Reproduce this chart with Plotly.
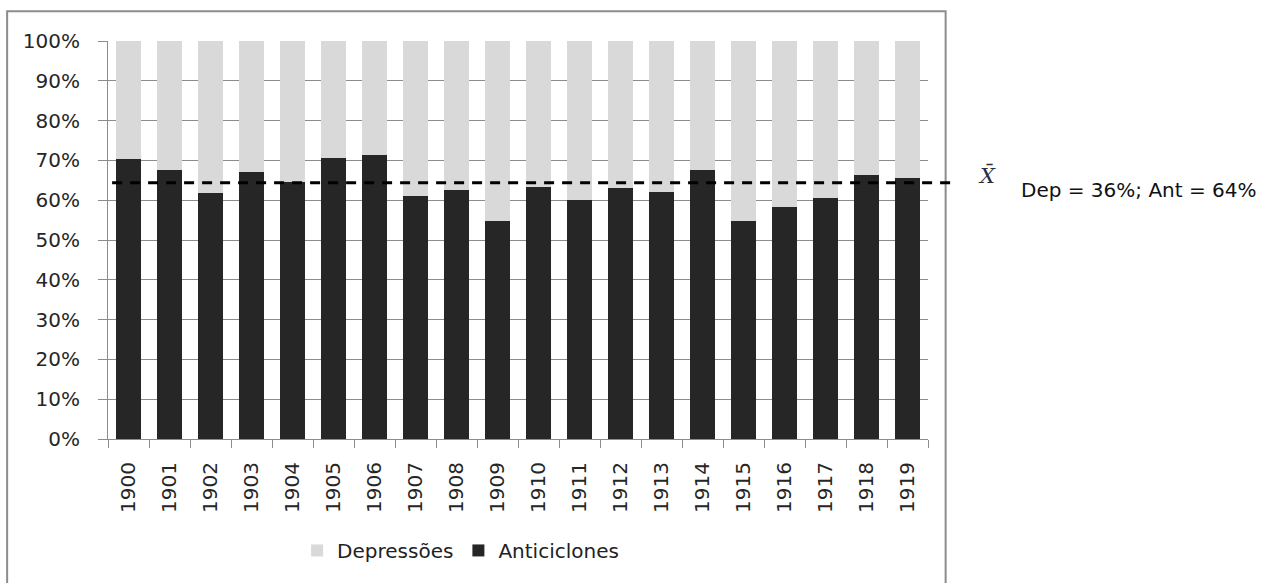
import plotly.graph_objects as go

# Annual share of anticyclones vs. depressions (percent of days)
years = [str(y) for y in range(1900, 1920)]
anticiclones = [70.4, 67.6, 61.8, 67.2, 64.5, 70.5, 71.4, 61.1, 62.5, 54.8,
                63.4, 60.1, 63.1, 62.1, 67.6, 54.8, 58.3, 60.5, 66.3, 65.6]
depressoes = [29.6, 32.4, 38.2, 32.8, 35.5, 29.5, 28.6, 38.9, 37.5, 45.2,
              36.6, 39.9, 36.9, 37.9, 32.4, 45.2, 41.7, 39.5, 33.7, 34.4]

# Period mean shown as a dashed reference line
mean_ant = 64.4
mean_dep = 100 - mean_ant
y_ticks = list(range(0, 101, 10))
y_tick_labels = [f"{v}%" for v in y_ticks]

DARK = "#262626"
LIGHT = "#d9d9d9"
GRID = "#8c8c8c"
FONT = "DejaVu Sans"

fig = go.Figure()
fig.add_trace(go.Bar(x=years, y=anticiclones, name="Anticiclones",
                     marker=dict(color=DARK, line=dict(width=0)), legendrank=2))
fig.add_trace(go.Bar(x=years, y=depressoes, name="Depressões",
                     marker=dict(color=LIGHT, line=dict(width=0)), legendrank=1))

# Dashed mean line, running past the plot frame toward the label
fig.add_shape(type="line", xref="paper", yref="y",
              x0=0.005, x1=1.035, y0=mean_ant, y1=mean_ant,
              line=dict(color="black", width=3, dash="10px,8px"))

# Outer chart frame
fig.add_shape(type="rect", xref="paper", yref="paper",
              x0=-0.123, x1=1.0215, y0=-0.40, y1=1.075,
              line=dict(color=GRID, width=2), fillcolor="rgba(0,0,0,0)", layer="below")

fig.add_annotation(xref="paper", yref="y", x=1.058, y=mean_ant, yshift=7,
                   xanchor="left",
                   text="<i>X̄</i>", showarrow=False,
                   font=dict(family="DejaVu Serif", size=21, color="#2b2b40"))
fig.add_annotation(xref="paper", yref="y", x=1.111, y=mean_ant, yshift=-7,
                   xanchor="left",
                   text=f"Dep = {round(mean_dep)}%; Ant = {round(mean_ant)}%",
                   showarrow=False, font=dict(family=FONT, size=20, color="#111"))

fig.update_layout(
    width=1272, height=583,
    margin=dict(l=108, r=344, t=41, b=144, autoexpand=False),
    paper_bgcolor="white", plot_bgcolor="white",
    barmode="stack", bargap=0.4,
    font=dict(family=FONT, size=20, color="#262626"),
    showlegend=True,
    legend=dict(orientation="h", x=0.43, xanchor="center", y=-0.28, yanchor="middle",
                font=dict(family=FONT, size=20, color="#222"), traceorder="normal"),
    xaxis=dict(type="category", tickangle=-90, tickson="boundaries",
               ticks="outside", ticklen=8, tickcolor=GRID,
               showline=True, linecolor=GRID, linewidth=1,
               showgrid=False, ticklabelstandoff=14,
               tickfont=dict(family=FONT, size=20)),
    yaxis=dict(range=[0, 100], tickmode="array", tickvals=y_ticks, ticktext=y_tick_labels,
               ticks="outside", ticklen=9, tickcolor=GRID,
               showline=True, linecolor=GRID, linewidth=1,
               showgrid=True, gridcolor=GRID, gridwidth=1,
               zeroline=False, ticklabelstandoff=14,
               tickfont=dict(family=FONT, size=20)),
)

fig.write_html("out.html")
